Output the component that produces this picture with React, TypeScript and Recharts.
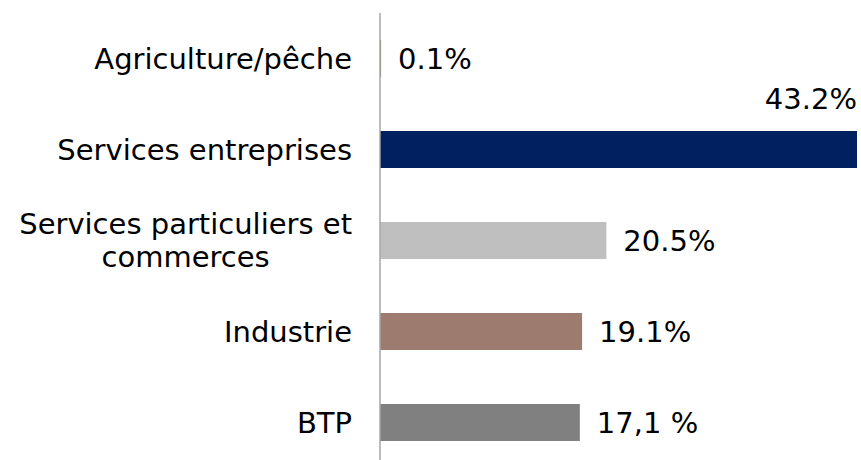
import { BarChart, Bar, XAxis, YAxis, Cell, LabelList } from 'recharts';

// secteurs d'activité (du haut vers le bas)
const categories = ['Agriculture/pêche', 'Services entreprises', 'Services particuliers et\ncommerces', 'Industrie', 'BTP'];
// longueur des barres
const shares = [0.1, 43.2, 20.5, 18.3, 18.1];
// étiquettes telles qu'affichées
const shareLabels = ['0.1%', '43.2%', '20.5%', '19.1%', '17,1 %'];
const barColors = ['#9E7C6F', '#002060', '#BFBFBF', '#9E7B6F', '#808080'];

const W = 861;
const H = 468;
const FONT = '"DejaVu Sans", Verdana, sans-serif';
const CAT_SIZE = 29;
const VAL_SIZE = 29;

const data = categories.map((name, i) => ({ name, value: shares[i], label: shareLabels[i] }));

let ctx: CanvasRenderingContext2D | null = null;
const textWidth = (s: string, size: number) => {
  if (!ctx) ctx = document.createElement('canvas').getContext('2d');
  if (!ctx) return s.length * size * 0.6;
  ctx.font = `${size}px ${FONT}`;
  return ctx.measureText(s).width;
};

const CategoryTick = (props: any) => {
  const { x, y, payload } = props;
  const lines = String(payload.value).split('\n');
  if (lines.length === 1) {
    return (
      <text x={x} y={y} dy="0.35em" textAnchor="end" fontSize={CAT_SIZE} fontFamily={FONT} fill="#000">
        {lines[0]}
      </text>
    );
  }
  const maxW = Math.max(...lines.map((l) => textWidth(l, CAT_SIZE)));
  const cx = x - maxW / 2;
  const lh = 33;
  const top = y - ((lines.length - 1) * lh) / 2;
  return (
    <text textAnchor="middle" fontSize={CAT_SIZE} fontFamily={FONT} fill="#000">
      {lines.map((l, i) => (
        <tspan key={i} x={cx} y={top + i * lh} dy="0.35em">
          {l}
        </tspan>
      ))}
    </text>
  );
};

const ValueLabel = (props: any) => {
  const { x, y, width, height, value } = props;
  const s = String(value);
  const end = x + width;
  const tw = textWidth(s, VAL_SIZE);
  if (end + 17 + tw > W) {
    // pas de place à droite : au-dessus de la barre, aligné à droite
    return (
      <text x={end} y={y - 32} dy="0.35em" textAnchor="end" fontSize={VAL_SIZE} fontFamily={FONT} fill="#000">
        {s}
      </text>
    );
  }
  return (
    <text x={end + 17} y={y + height / 2} dy="0.35em" textAnchor="start" fontSize={VAL_SIZE} fontFamily={FONT} fill="#000">
      {s}
    </text>
  );
};

export default function App() {
  return (
    <div style={{ position: 'absolute', left: 0, top: 0, width: W, height: 460, overflow: 'hidden', background: '#fff' }}>
      <BarChart
        width={W}
        height={H}
        data={data}
        layout="vertical"
        margin={{ top: 13, right: 4, bottom: 0, left: 0 }}
        barSize={37}
      >
        <XAxis type="number" domain={[0, 43.2]} hide />
        <YAxis
          type="category"
          dataKey="name"
          width={380}
          axisLine={{ stroke: '#A6A6A6', strokeWidth: 1.5 }}
          tickLine={false}
          tickSize={0}
          tickMargin={28}
          tick={<CategoryTick />}
          interval={0}
        />
        <Bar dataKey="value" isAnimationActive={false}>
          {data.map((d, i) => (
            <Cell key={d.name} fill={barColors[i]} />
          ))}
          <LabelList dataKey="label" content={<ValueLabel />} />
        </Bar>
      </BarChart>
    </div>
  );
}
